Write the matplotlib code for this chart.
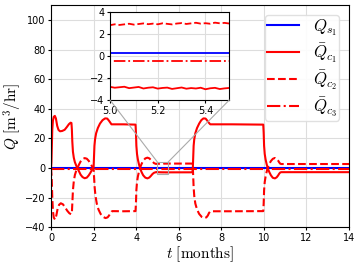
import matplotlib
matplotlib.use("Agg")
import matplotlib.pyplot as plt
from matplotlib.patches import Rectangle, ConnectionPatch

plt.rcParams["mathtext.fontset"] = "cm"

# ---- data ----
t_s1 = [0, 14]
q_s1 = [0.3, 0.3]

t_c3 = [0, 14]
q_c3 = [-0.42, -0.42]

t_noise = [4.92, 4.94, 4.96, 4.98, 5.00, 5.02, 5.04, 5.06, 5.08, 5.10, 5.12, 5.14,
           5.16, 5.18, 5.20, 5.22, 5.24, 5.26, 5.28, 5.30, 5.32, 5.34, 5.36, 5.38,
           5.40, 5.42, 5.44, 5.46, 5.48, 5.50, 5.52, 5.54, 5.56, 5.58]
q_c1_noise = [-2.78, -2.74, -2.85, -2.72, -2.80, -2.88, -2.83, -2.79, -2.92, -2.86,
              -2.81, -2.95, -2.88, -2.84, -2.96, -2.90, -2.87, -2.99, -2.92, -2.86,
              -2.97, -2.91, -2.95, -2.88, -3.02, -2.93, -2.89, -3.00, -2.94, -2.90,
              -3.03, -2.95, -2.92, -2.96]
q_c2_noise = [2.80, 2.84, 2.78, 2.86, 2.83, 2.91, 2.85, 2.90, 2.96, 2.88, 2.94, 2.99,
              2.92, 2.97, 2.91, 3.00, 2.95, 2.90, 2.98, 3.02, 2.94, 2.99, 3.05, 2.97,
              3.01, 2.96, 3.06, 3.00, 3.04, 2.98, 3.08, 3.02, 3.00, 3.03]

t_c1_a = [0, 0.02, 0.04, 0.06, 0.09, 0.13, 0.18, 0.23, 0.29, 0.35, 0.42, 0.52, 0.64,
          0.74, 0.84, 0.92, 0.96, 0.98, 1.0, 1.03, 1.07, 1.12, 1.18, 1.24, 1.31, 1.39,
          1.48, 1.58, 1.68, 1.77, 1.85, 1.92, 1.97,
          2.0, 2.02, 2.04, 2.07, 2.12, 2.2, 2.3, 2.42, 2.54, 2.64, 2.72, 2.78, 2.82,
          2.84, 3.4, 3.97,
          3.99, 4.01, 4.04, 4.08, 4.13, 4.18, 4.25, 4.33, 4.43, 4.53, 4.62, 4.7, 4.77,
          4.84, 4.9]
q_c1_a = [0, 4, 16, 26, 32, 34.6, 35.2, 33.5, 28.5, 25.8, 24.8, 25.0, 25.8,
          27.6, 29.6, 30.6, 30.4, 26, 18, 11, 7, 4, 1.8, 0, -2.2, -4.5,
          -6.1, -6.9, -6.5, -5.0, -3.2, -1.4, -0.2,
          0.5, 8, 15, 19.5, 23.5, 27, 30, 32.3, 33.5, 33.4, 32, 30.8, 30.0,
          29.5, 29.5, 29.3,
          24, 15, 9.5, 5.8, 2.6, 0, -2.6, -4.9, -6.5, -7.0, -6.4, -5.2, -4.0,
          -3.2, -2.9]
t_c1_b = [5.6, 6.0, 6.4, 6.64,
          6.66, 6.68, 6.7, 6.73, 6.78, 6.86, 6.96, 7.06, 7.16, 7.26, 7.34, 7.4, 7.45,
          7.48, 8.5, 9.97,
          9.99, 10.01, 10.04, 10.08, 10.13, 10.18, 10.25, 10.33, 10.42, 10.52, 10.6,
          10.67, 10.72, 10.77, 10.82, 12, 14]
q_c1_b = [-2.92, -2.9, -2.92, -2.9,
          -1, 8, 15, 19.5, 23.5, 27, 30, 32.3, 33.5, 33.4, 32, 30.8, 30.0,
          29.5, 29.5, 29.3,
          24, 15, 9.5, 5.8, 2.6, 0, -2.6, -4.9, -6.6, -7.0, -6.3,
          -5.0, -3.8, -3.0, -2.8, -2.8, -2.8]

t_c2_a = [0, 0.03, 0.06, 0.09, 0.13, 0.19, 0.25, 0.31, 0.38, 0.46, 0.56, 0.66, 0.76,
          0.86, 0.94, 0.98, 1.0, 1.03, 1.07, 1.12, 1.18, 1.24, 1.31, 1.39, 1.48, 1.58,
          1.68, 1.77, 1.85, 1.92, 1.97,
          2.0, 2.02, 2.05, 2.09, 2.15, 2.23, 2.33, 2.45, 2.56, 2.66, 2.73, 2.79, 2.84,
          2.88, 3.4, 3.97,
          3.99, 4.01, 4.04, 4.08, 4.13, 4.18, 4.25, 4.33, 4.43, 4.53, 4.62, 4.7, 4.77,
          4.84, 4.9]
q_c2_a = [0, -6, -20, -29, -33.5, -34.8, -32, -27.5, -24.8, -23.8, -24.5, -26.5, -28.8,
          -30.5, -31.2, -30.5, -24, -15, -9, -4.8, -2, 0, 2.2, 4.4, 6.0, 6.7,
          6.3, 4.9, 3.1, 1.3, 0.2,
          -0.5, -6, -13, -19, -24, -28, -31, -33, -33.8, -33.3, -32, -30.4, -29.5,
          -29.1, -29.2, -29.1,
          -24, -15, -9.5, -5.8, -2.6, 0, 2.6, 4.9, 6.5, 7.0, 6.5, 5.3, 4.2,
          3.3, 2.9]
t_c2_b = [5.6, 6.0, 6.4, 6.64,
          6.66, 6.68, 6.7, 6.73, 6.78, 6.86, 6.96, 7.08, 7.2, 7.3, 7.37, 7.42, 7.47,
          7.5, 8.5, 9.97,
          9.99, 10.01, 10.04, 10.08, 10.13, 10.18, 10.25, 10.33, 10.42, 10.52, 10.6,
          10.67, 10.72, 10.77, 10.82, 12, 14]
q_c2_b = [3.0, 3.0, 3.0, 3.0,
          1.5, -6, -13, -19, -24, -28, -31, -33, -33.8, -33.3, -32, -30.4, -29.5,
          -29.2, -29.2, -29.1,
          -24, -15, -9.5, -5.8, -2.6, 0, 2.6, 4.7, 6.2, 6.8, 6.2,
          5.0, 3.8, 2.9, 2.7, 2.7, 2.7]

t_c1 = t_c1_a + t_noise + t_c1_b
q_c1 = q_c1_a + q_c1_noise + q_c1_b
t_c2 = t_c2_a + t_noise + t_c2_b
q_c2 = q_c2_a + q_c2_noise + q_c2_b

zoom_x = (5.0, 5.5)
zoom_y = (-4, 4)


def draw_series(ax, lw):
    ax.plot(t_s1, q_s1, color="blue", lw=lw, label=r"$Q_{s_1}$")
    ax.plot(t_c1, q_c1, color="red", lw=lw, ls="-", label=r"$\bar{Q}_{c_1}$")
    ax.plot(t_c2, q_c2, color="red", lw=lw, ls="--", label=r"$\bar{Q}_{c_2}$")
    ax.plot(t_c3, q_c3, color="red", lw=lw, ls="-.", label=r"$\bar{Q}_{c_3}$")


fig = plt.figure(figsize=(3.6, 2.68), dpi=100)
ax = fig.add_axes([0.1417, 0.152, 0.8278, 0.829])
ax.grid(True, color="#dddddd", lw=0.8)
ax.set_axisbelow(True)
draw_series(ax, 1.5)
ax.set_xlim(0, 14)
ax.set_ylim(-40, 110)
ax.set_xticks(range(0, 15, 2))
ax.set_yticks(range(-40, 101, 20))
ax.tick_params(labelsize=7, length=2, width=0.8, pad=2)
ax.set_xlabel(r"$t\ [\mathrm{months}]$", fontsize=11, labelpad=1)
ax.set_ylabel(r"$Q\ [\mathrm{m}^3/\mathrm{hr}]$", fontsize=11, labelpad=0.5)
ax.legend(loc="upper right", fontsize=12, framealpha=0.9, edgecolor="#dddddd",
          borderpad=0.1, labelspacing=0.22, handlelength=1.95, handletextpad=0.8,
          borderaxespad=0.6)

# zoom box + connectors
ax.add_patch(Rectangle((zoom_x[0], zoom_y[0]), zoom_x[1] - zoom_x[0],
                       zoom_y[1] - zoom_y[0], fill=False, ec="#aaaaaa", lw=0.8, zorder=5))

axins = fig.add_axes([0.3056, 0.6269, 0.3314, 0.327])
axins.grid(True, color="#dddddd", lw=0.8)
axins.set_axisbelow(True)
draw_series(axins, 1.3)
axins.set_xlim(*zoom_x)
axins.set_ylim(*zoom_y)
axins.set_xticks([5.0, 5.2, 5.4])
axins.set_yticks([-4, -2, 0, 2, 4])
axins.tick_params(labelsize=7, length=2, width=0.8, pad=2)

for xa, xd in [(0, zoom_x[0]), (1, zoom_x[1])]:
    con = ConnectionPatch(xyA=(xa, 0), coordsA=axins.transAxes,
                          xyB=(xd, zoom_y[1]), coordsB=ax.transData,
                          color="#aaaaaa", lw=0.8)
    fig.add_artist(con)

fig.savefig("out.png", dpi=100)
